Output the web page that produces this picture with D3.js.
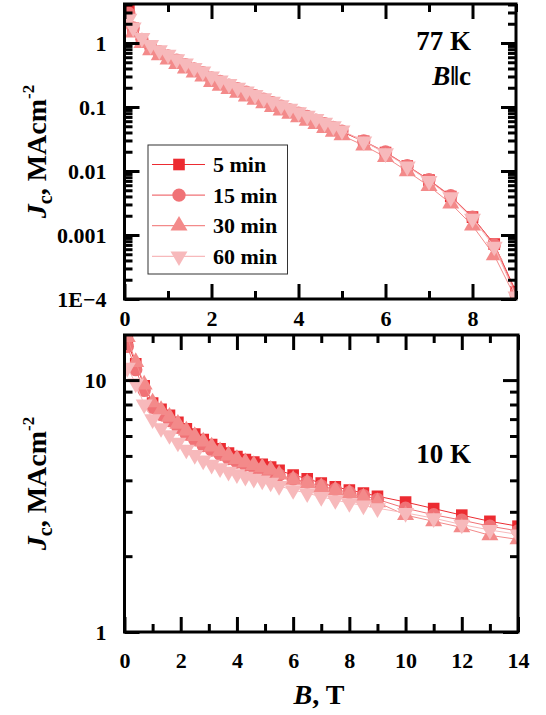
<!DOCTYPE html>
<html>
<head>
<meta charset="utf-8">
<script src="https://cdn.jsdelivr.net/npm/d3@7/dist/d3.min.js"></script>
<style>
  html, body { margin: 0; padding: 0; background: #fff; }
  svg { display: block; }
  text { font-family: "Liberation Serif", "Times New Roman", serif; font-weight: bold; fill: #000; }
</style>
</head>
<body>
<div id="chart"></div>
<script>
// ---------------- DATA ----------------
const seriesNames = ["5 min", "15 min", "30 min", "60 min"];
const seriesColors = ["#ec2b31", "#f07276", "#f38a8a", "#f7b9bb"];
const seriesSymbols = ["square", "circle", "triangle", "triangleDown"];

// 77 K, B || c
const B77 = [0.1,0.2,0.4,0.6,0.8,1.0,1.2,1.4,1.6,1.8,2.0,2.2,2.4,2.6,2.8,3.0,3.2,3.4,3.6,3.8,4.0,4.2,4.4,4.6,4.8,5.0,5.5,6.0,6.5,7.0,7.5,8.0,8.5,9.0];
const jc77_5  = [3.3,1.7,1.12,0.87,0.72,0.62,0.53,0.45,0.39,0.34,0.28,0.245,0.215,0.19,0.167,0.147,0.13,0.115,0.101,0.089,0.079,0.07,0.062,0.054,0.047,0.041,0.029,0.0195,0.012,0.0072,0.0040,0.0019,0.00072,0.00013];
const jc77_15 = [2.9,1.72,1.14,0.88,0.73,0.63,0.54,0.46,0.395,0.345,0.285,0.25,0.22,0.193,0.17,0.15,0.132,0.117,0.103,0.09,0.08,0.071,0.062,0.055,0.048,0.042,0.0295,0.0198,0.0121,0.0073,0.0041,0.0019,0.00070,0.00012];
const jc77_30 = [2.0,1.45,1.0,0.77,0.64,0.55,0.47,0.4,0.345,0.3,0.245,0.215,0.19,0.166,0.146,0.129,0.114,0.1,0.088,0.078,0.069,0.061,0.054,0.047,0.041,0.036,0.025,0.0165,0.0099,0.0058,0.0031,0.0014,0.00048,0.0001];
const jc77_60 = [2.4,1.75,1.2,0.93,0.77,0.66,0.56,0.48,0.41,0.36,0.30,0.26,0.23,0.20,0.176,0.155,0.137,0.121,0.107,0.094,0.083,0.073,0.065,0.057,0.050,0.043,0.029,0.019,0.0118,0.0070,0.0039,0.0018,0.00066,0.00011];

// 10 K
const B10 = [0.1,0.4,0.7,1.0,1.3,1.6,1.9,2.2,2.5,2.8,3.1,3.4,3.7,4.0,4.3,4.6,4.9,5.2,5.5,6,6.5,7,7.5,8,8.5,9,10,11,12,13,14];
const jc10_5  = [14.2,11.6,9.5,8.1,7.65,7.25,6.8,6.4,6.1,5.8,5.55,5.33,5.13,4.97,4.84,4.73,4.63,4.52,4.38,4.2,4.06,3.9,3.77,3.66,3.56,3.46,3.28,3.09,2.91,2.75,2.63];
const jc10_15 = [13.6,11.0,9.1,7.8,7.3,6.9,6.5,6.1,5.8,5.5,5.28,5.07,4.88,4.73,4.6,4.49,4.4,4.3,4.2,4.05,3.93,3.8,3.68,3.58,3.48,3.36,3.1,2.92,2.78,2.63,2.52];
const jc10_30 = [14.8,11.8,9.6,8.15,7.6,7.15,6.7,6.3,6.0,5.7,5.45,5.22,5.02,4.86,4.72,4.6,4.5,4.4,4.22,4.02,3.9,3.76,3.65,3.55,3.42,3.27,2.91,2.75,2.6,2.42,2.33];
const jc10_60 = [11.2,9.7,8.0,7.0,6.45,6.05,5.65,5.3,5.05,4.8,4.62,4.47,4.33,4.23,4.14,4.06,4.0,3.92,3.8,3.66,3.56,3.44,3.34,3.25,3.18,3.1,2.97,2.83,2.67,2.54,2.44];

// tick values / labels
const xTicks77 = [0,2,4,6,8];
const xMinor77 = [1,3,5,7,9];
const yTicks77 = [1e-4,1e-3,1e-2,1e-1,1];
const yTickLabels77 = ["1E\u22124","0.001","0.01","0.1","1"];
const xTicks10 = [0,2,4,6,8,10,12,14];
const xMinor10 = [1,3,5,7,9,11,13];
const yTicks10 = [1,10];
const yTickLabels10 = ["1","10"];

// ---------------- LAYOUT ----------------
const W = 546, H = 715;
const svg = d3.select("#chart").append("svg").attr("width", W).attr("height", H);

const symMap = {
  square: d3.symbolSquare, circle: d3.symbolCircle,
  triangle: d3.symbolTriangle, triangleDown: d3.symbolTriangle
};
const symSize = { square: 135, circle: 140, triangle: 125, triangleDown: 125 };
function symPath(name) { return d3.symbol(symMap[name], symSize[name])(); }
function symTransform(name, x, y) { return `translate(${x},${y})` + (name === "triangleDown" ? " rotate(180)" : ""); }

function logMinor(domain) {
  const out = [];
  const lo = Math.floor(Math.log10(domain[0])), hi = Math.ceil(Math.log10(domain[1]));
  for (let e = lo; e <= hi; e++) for (let m = 2; m <= 9; m++) {
    const v = m * Math.pow(10, e);
    if (v > domain[0] && v < domain[1]) out.push(v);
  }
  return out;
}

function drawPanel(cfg) {
  const { x, y, id } = cfg;
  const [L, R] = x.range(), [Bt, T] = y.range();
  const g = svg.append("g");

  svg.append("clipPath").attr("id", id).append("rect")
    .attr("x", L).attr("y", T).attr("width", R - L).attr("height", Bt - T);

  const data = g.append("g").attr("clip-path", `url(#${id})`);
  cfg.series.forEach((vals, i) => {
    const pts = cfg.B.map((b, k) => [b, vals[k]]);
    data.append("path")
      .attr("d", d3.line().x(d => x(d[0])).y(d => y(d[1]))(pts))
      .attr("fill", "none").attr("stroke", seriesColors[i]).attr("stroke-width", 1);
    data.selectAll(null).data(pts).enter().append("path")
      .attr("d", symPath(seriesSymbols[i]))
      .attr("transform", d => symTransform(seriesSymbols[i], x(d[0]), y(d[1])))
      .attr("fill", seriesColors[i]);
  });

  const fmtX = d => d3.format("d")(d);
  const yFmt = d => cfg.yLabels[cfg.yTicks.indexOf(d)];

  function styleAxis(sel) {
    sel.select(".domain").remove();
    sel.selectAll("line").attr("stroke", "#000").attr("stroke-width", 3);
    sel.selectAll("text").style("font-size", "22px").style("font-family", '"Liberation Serif", "Times New Roman", serif').style("font-weight", "bold").attr("fill", "#000");
  }

  g.append("g").attr("transform", `translate(0,${Bt})`)
    .call(d3.axisBottom(x).tickValues(cfg.xTicks).tickSize(-15).tickPadding(cfg.xPad).tickFormat(fmtX)).call(styleAxis);
  g.append("g").attr("transform", `translate(0,${Bt})`)
    .call(d3.axisBottom(x).tickValues(cfg.xMinor).tickSize(-8).tickFormat("")).call(styleAxis);
  g.append("g").attr("transform", `translate(0,${T})`)
    .call(d3.axisTop(x).tickValues(cfg.xTicks).tickSize(-15).tickFormat("")).call(styleAxis);
  g.append("g").attr("transform", `translate(0,${T})`)
    .call(d3.axisTop(x).tickValues(cfg.xMinor).tickSize(-8).tickFormat("")).call(styleAxis);

  const ym = logMinor(y.domain());
  g.append("g").attr("transform", `translate(${L},0)`)
    .call(d3.axisLeft(y).tickValues(cfg.yTicks).tickSize(-15).tickPadding(18).tickFormat(yFmt)).call(styleAxis);
  g.append("g").attr("transform", `translate(${L},0)`)
    .call(d3.axisLeft(y).tickValues(ym).tickSize(-8).tickFormat("")).call(styleAxis);
  g.append("g").attr("transform", `translate(${R},0)`)
    .call(d3.axisRight(y).tickValues(cfg.yTicks).tickSize(-15).tickFormat("")).call(styleAxis);
  g.append("g").attr("transform", `translate(${R},0)`)
    .call(d3.axisRight(y).tickValues(ym).tickSize(-8).tickFormat("")).call(styleAxis);

  g.append("rect").attr("x", L).attr("y", T).attr("width", R - L).attr("height", Bt - T)
    .attr("fill", "none").attr("stroke", "#000").attr("stroke-width", 3);

  // y axis title
  const cy = (T + Bt) / 2;
  const t = g.append("text").attr("transform", `translate(46,${cy}) rotate(-90)`)
    .attr("text-anchor", "middle").style("font-size", "28px");
  t.append("tspan").style("font-style", "italic").text("J");
  t.append("tspan").attr("dy", 6).style("font-size", "20px").text("c");
  t.append("tspan").attr("dy", -6).text(", MAcm");
  t.append("tspan").attr("dy", -12).style("font-size", "17px").text("-2");
  return g;
}

const x77 = d3.scaleLinear().domain([0, 9]).range([124.5, 516]);
const y77 = d3.scaleLog().domain([1e-4, 4.07]).range([299, 4]);
const x10 = d3.scaleLinear().domain([0, 14]).range([124.5, 518]);
const y10 = d3.scaleLog().domain([1, 15.1]).range([632, 335]);

drawPanel({ id: "clip77", x: x77, y: y77, B: B77, series: [jc77_5, jc77_15, jc77_30, jc77_60],
  xTicks: xTicks77, xMinor: xMinor77, yTicks: yTicks77, yLabels: yTickLabels77, xPad: 11 });
drawPanel({ id: "clip10", x: x10, y: y10, B: B10, series: [jc10_5, jc10_15, jc10_30, jc10_60],
  xTicks: xTicks10, xMinor: xMinor10, yTicks: yTicks10, yLabels: yTickLabels10, xPad: 20 });

// panel labels
svg.append("text").attr("x", 471).attr("y", 50).attr("text-anchor", "end").style("font-size", "27px").text("77 K");
const bc = svg.append("text").attr("x", 471).attr("y", 85).attr("text-anchor", "end").style("font-size", "27px");
bc.append("tspan").style("font-style", "italic").text("B");
bc.append("tspan").text("\u2016c");
svg.append("text").attr("x", 471).attr("y", 463).attr("text-anchor", "end").style("font-size", "27px").text("10 K");

// x axis title
const xt = svg.append("text").attr("x", 319).attr("y", 704).attr("text-anchor", "middle").style("font-size", "28px");
xt.append("tspan").style("font-style", "italic").text("B");
xt.append("tspan").text(", T");

// legend
const lg = svg.append("g").attr("transform", "translate(148,145)");
lg.append("rect").attr("x", 0).attr("y", 0).attr("width", 139.5).attr("height", 129)
  .attr("fill", "#fff").attr("stroke", "#333").attr("stroke-width", 1);
seriesNames.forEach((name, i) => {
  const yy = 19.5 + i * 30.6;
  lg.append("line").attr("x1", 4).attr("x2", 57).attr("y1", yy).attr("y2", yy)
    .attr("stroke", seriesColors[i]).attr("stroke-width", 1.2);
  lg.append("path").attr("d", symPath(seriesSymbols[i]))
    .attr("transform", symTransform(seriesSymbols[i], 31, yy)).attr("fill", seriesColors[i]);
  lg.append("text").attr("x", 65).attr("y", yy + 7.5).style("font-size", "22px").text(name);
});
</script>
</body>
</html>
